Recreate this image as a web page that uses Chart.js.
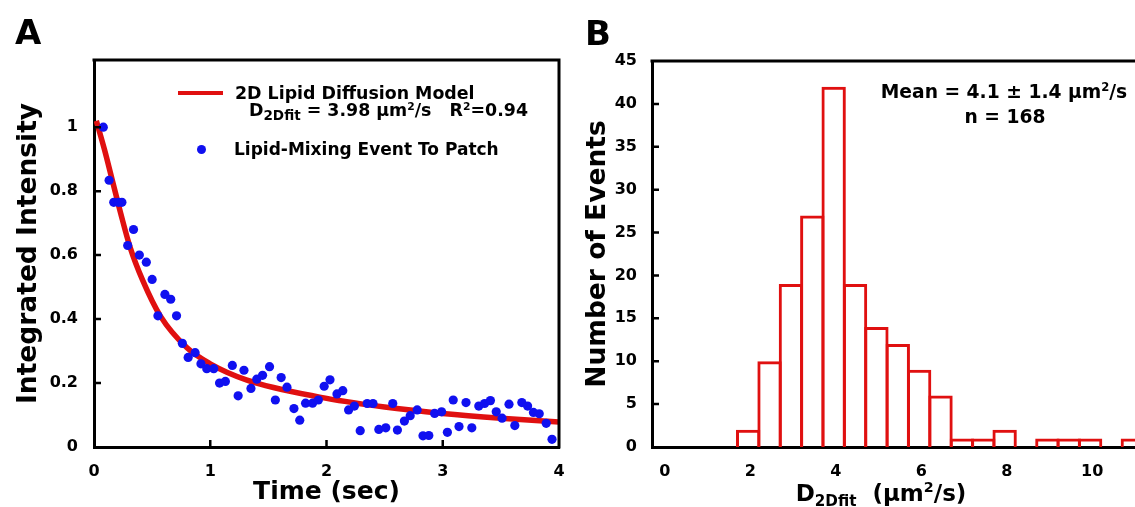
<!DOCTYPE html>
<html>
<head>
<meta charset="utf-8">
<script src="https://cdn.jsdelivr.net/npm/chart.js@4/dist/chart.umd.min.js"></script>
<style>
  html, body { margin: 0; padding: 0; background: #fff; }
  #page { position: relative; width: 1135px; height: 507px; overflow: hidden; }
  .box { position: absolute; top: 0; height: 507px; }
  .t { position: absolute; font-family: 'DejaVu Sans', Verdana, sans-serif; font-weight: bold;
       white-space: nowrap; line-height: 1; color: #000; }
  .t sub { font-size: 0.66em; vertical-align: -0.32em; line-height: 0; }
  .t sup { font-size: 0.62em; vertical-align: 0.6em; line-height: 0; }
  .t.big-sub sub { font-size: 0.78em; vertical-align: -0.3em; }
  .mark { position: absolute; }
</style>
</head>
<body>
<div id="page">
  <div class="box" style="left:0;width:575px"><canvas id="chartA"></canvas></div>
  <div class="box" style="left:575px;width:560px"><canvas id="chartB"></canvas></div>

  <div class="t" style="left:15px;top:15px;font-size:34px">A</div>
  <div class="t" style="left:585px;top:16px;font-size:34px">B</div>

  <!-- legend panel A -->
  <div class="mark" style="left:178px;top:91px;width:45px;height:4px;background:#e01010"></div>
  <div class="t" style="left:235px;top:85px;font-size:17.4px">2D Lipid Diffusion Model</div>
  <div class="t big-sub" style="left:249px;top:102px;font-size:17.4px">D<sub>2Dfit</sub> = 3.98 μm<sup>2</sup>/s&nbsp;&nbsp;&nbsp;R<sup>2</sup>=0.94</div>
  <div class="mark" style="left:197px;top:145px;width:9px;height:9px;border-radius:50%;background:#1010f0"></div>
  <div class="t" style="left:234px;top:141px;font-size:17px">Lipid-Mixing Event To Patch</div>

  <!-- annotation panel B -->
  <div class="t" style="left:1004px;top:83px;font-size:18.7px;transform:translateX(-50%)">Mean = 4.1 ± 1.4 μm<sup>2</sup>/s</div>
  <div class="t" style="left:1005px;top:108px;font-size:18.7px;transform:translateX(-50%)">n = 168</div>
  <div class="t" style="left:881px;top:482px;font-size:23px;transform:translateX(-50%)">D<sub>2Dfit</sub>&nbsp;&nbsp;(μm<sup>2</sup>/s)</div>
</div>

<script>
// panel A: measured intensity
let timeSec = [0.08,0.13,0.17,0.21,0.24,0.29,0.34,0.39,0.45,0.50,0.55,0.61,0.66,0.71,0.76,0.81,0.87,0.92,0.97,1.03,
  1.08,1.13,1.19,1.24,1.29,1.35,1.40,1.45,1.51,1.56,1.61,1.66,1.72,1.77,1.82,1.88,1.93,1.98,2.03,2.09,
  2.14,2.19,2.24,2.29,2.35,2.40,2.45,2.51,2.57,2.61,2.67,2.72,2.78,2.83,2.88,2.93,2.99,3.04,3.09,3.14,
  3.20,3.25,3.31,3.36,3.41,3.46,3.51,3.57,3.62,3.68,3.73,3.78,3.83,3.89,3.94];
let intensity = [1.00,0.834,0.765,0.765,0.765,0.63,0.68,0.60,0.578,0.524,0.41,0.477,0.462,0.41,0.324,0.28,0.295,0.26,0.245,0.245,
  0.20,0.205,0.255,0.16,0.24,0.183,0.212,0.224,0.251,0.147,0.217,0.187,0.12,0.084,0.137,0.137,0.147,0.19,0.21,0.166,
  0.176,0.116,0.128,0.051,0.136,0.136,0.055,0.06,0.136,0.053,0.081,0.098,0.116,0.035,0.036,0.105,0.11,0.046,0.147,0.064,
  0.139,0.06,0.128,0.136,0.145,0.11,0.09,0.134,0.067,0.139,0.128,0.108,0.104,0.074,0.024];

// panel A: fitted model curve
let fitTime  = [0.02,0.09,0.16,0.23,0.31,0.42,0.57,0.80,1.00,1.31,1.94,2.50,3.00,3.50,4.00];
let fitValue = [1.02,0.93,0.83,0.73,0.625,0.52,0.41,0.31,0.26,0.21,0.156,0.125,0.105,0.09,0.078];

let xTicksA = [0,1,2,3,4];
let yTicksA = [0,0.2,0.4,0.6,0.8,1];
let yTickLabelsA = ['0','0.2','0.4','0.6','0.8','1'];

// panel B: histogram of D2Dfit, bin centres and counts
let binCentres = [1.95,2.45,2.95,3.45,3.95,4.45,4.95,5.45,5.95,6.45,6.95,7.45,7.95,8.45,8.95,9.45,9.95,10.45,10.95];
let binCounts  = [2,10,19,27,42,19,14,12,9,6,1,1,2,0,1,1,1,0,1];

let xTicksB = [0,2,4,6,8,10];
let yTicksB = [0,5,10,15,20,25,30,35,40,45];

let red = '#e01010';
let blue = '#1010f0';

Chart.defaults.font.family = "'DejaVu Sans', Verdana, sans-serif";
Chart.defaults.font.weight = 'bold';
Chart.defaults.color = '#000';

// frame on the open sides plus inward tick marks
const frameBox = {
  id: 'frameBox',
  afterDatasetsDraw(chart, args, opts) {
    const ctx = chart.ctx;
    const ca = chart.chartArea;
    ctx.save();
    ctx.strokeStyle = '#000';
    ctx.lineWidth = 3;
    ctx.beginPath();
    ctx.moveTo(ca.left - 1.5, ca.top);
    ctx.lineTo(ca.right + 1.5, ca.top);
    if (opts.right) {
      ctx.moveTo(ca.right, ca.top);
      ctx.lineTo(ca.right, ca.bottom + 1.5);
    }
    ctx.stroke();
    ctx.lineWidth = 2.5;
    ctx.beginPath();
    (opts.xTicks || []).forEach(function (v) {
      let px = chart.scales.x.getPixelForValue(v);
      ctx.moveTo(px, ca.bottom);
      ctx.lineTo(px, ca.bottom - 7);
    });
    (opts.yTicks || []).forEach(function (v) {
      let py = chart.scales.y.getPixelForValue(v);
      ctx.moveTo(ca.left, py);
      ctx.lineTo(ca.left + 7, py);
    });
    ctx.stroke();
    ctx.restore();
  }
};

function pts(xs, ys) {
  return xs.map(function (x, i) { return {x: x, y: ys[i]}; });
}

let chartA = new Chart(document.getElementById('chartA'), {
  type: 'scatter',
  data: {
    datasets: [{
      label: 'Lipid-Mixing Event To Patch',
      data: pts(timeSec, intensity),
      backgroundColor: blue,
      borderWidth: 0,
      pointRadius: 4.6,
      order: 0
    }, {
      label: '2D Lipid Diffusion Model',
      data: pts(fitTime, fitValue),
      showLine: true,
      borderColor: red,
      borderWidth: 5.5,
      pointRadius: 0,
      cubicInterpolationMode: 'monotone',
      order: 1
    }]
  },
  plugins: [frameBox],
  options: {
    responsive: true,
    maintainAspectRatio: false,
    animation: false,
    devicePixelRatio: 1,
    layout: { padding: { left: 0, top: 60, right: 16, bottom: 0 } },
    plugins: {
      legend: { display: false },
      tooltip: { enabled: false },
      frameBox: { right: true, xTicks: [1,2,3], yTicks: [0.2,0.4,0.6,0.8,1] }
    },
    scales: {
      x: {
        type: 'linear', min: 0, max: 4,
        afterBuildTicks: function (s) { s.ticks = xTicksA.map(function (v) { return {value: v}; }); },
        afterFit: function (s) { s.height = 60; },
        grid: { display: false },
        border: { display: true, color: '#000', width: 3 },
        ticks: { font: { size: 16, weight: 'bold' }, padding: 7, autoSkip: false, maxRotation: 0 },
        title: { display: true, text: 'Time (sec)', font: { size: 25, weight: 'bold' }, padding: { top: 0, bottom: 0 } }
      },
      y: {
        type: 'linear', min: 0, max: 1.21,
        afterBuildTicks: function (s) { s.ticks = yTicksA.map(function (v) { return {value: v}; }); },
        afterFit: function (s) { s.width = 94; },
        grid: { display: false },
        border: { display: true, color: '#000', width: 3 },
        ticks: {
          font: { size: 16, weight: 'bold' }, padding: 8, autoSkip: false,
          callback: function (v) { return yTickLabelsA[yTicksA.indexOf(v)]; }
        },
        title: { display: true, text: 'Integrated Intensity', font: { size: 26.5, weight: 'bold' }, padding: { top: 13, bottom: 0 } }
      }
    }
  }
});

let chartB = new Chart(document.getElementById('chartB'), {
  type: 'bar',
  data: {
    datasets: [{
      label: 'Number of Events',
      data: pts(binCentres, binCounts),
      backgroundColor: 'rgba(0,0,0,0)',
      borderColor: red,
      borderWidth: 3,
      borderSkipped: 'bottom',
      barPercentage: 1.14,
      categoryPercentage: 1
    }]
  },
  plugins: [frameBox],
  options: {
    responsive: true,
    maintainAspectRatio: false,
    animation: false,
    devicePixelRatio: 1,
    layout: { padding: { left: 0, top: 61, right: 0, bottom: 0 } },
    plugins: {
      legend: { display: false },
      tooltip: { enabled: false },
      frameBox: { right: false, xTicks: [], yTicks: [5,10,15,20,25,30,35,40] }
    },
    scales: {
      x: {
        type: 'linear', min: -0.3, max: 11.0, offset: false,
        afterBuildTicks: function (s) { s.ticks = xTicksB.map(function (v) { return {value: v}; }); },
        afterFit: function (s) { s.height = 60; },
        grid: { display: false, offset: false },
        border: { display: true, color: '#000', width: 3 },
        ticks: { font: { size: 16, weight: 'bold' }, padding: 7, autoSkip: false, maxRotation: 0 }
      },
      y: {
        type: 'linear', min: 0, max: 45,
        afterBuildTicks: function (s) { s.ticks = yTicksB.map(function (v) { return {value: v}; }); },
        afterFit: function (s) { s.width = 77; },
        grid: { display: false },
        border: { display: true, color: '#000', width: 3 },
        ticks: { font: { size: 16, weight: 'bold' }, padding: 7, autoSkip: false },
        title: { display: true, text: 'Number of Events', font: { size: 26.5, weight: 'bold' }, padding: { top: 7, bottom: 0 } }
      }
    }
  }
});
</script>
</body>
</html>
